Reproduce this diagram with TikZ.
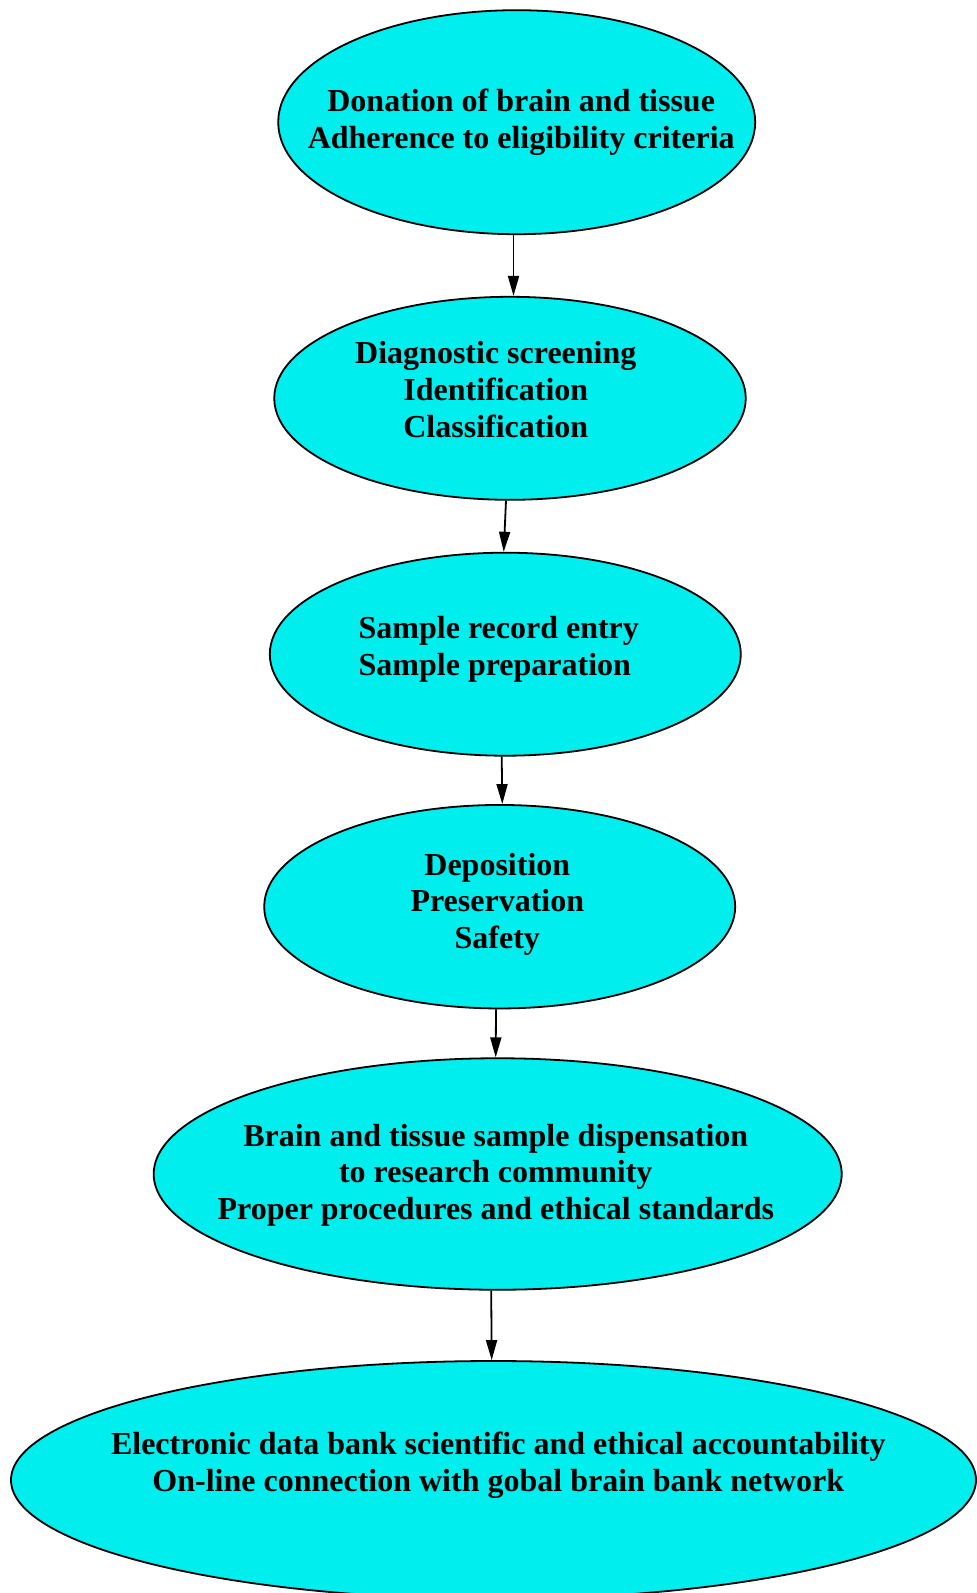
\documentclass[tikz,border=0pt]{standalone}
\usepackage{fontspec}
\setmainfont{Liberation Serif}
\usetikzlibrary{shapes.geometric,arrows.meta}
\definecolor{bank}{RGB}{0,238,238}

\begin{document}
\begin{tikzpicture}[stage/.style={ellipse, draw, fill=bank, inner sep=0pt},
  txt/.style={font=\fontsize{32}{36.7}\selectfont\bfseries, align=center, inner sep=0pt},
  >={Triangle[length=20pt,width=11pt]}, line width=1.8pt]
  \useasboundingbox (0,0) rectangle (977pt,-1593pt);

  \node (A) [stage, minimum width=477pt, minimum height=224pt,
    label={[txt, xshift=4.5pt]center:Donation of brain and tissue\\Adherence to eligibility criteria}]
    at (516.7pt,-122.2pt) {};
  \node (B) [stage, minimum width=471.5pt, minimum height=203pt,
    below of=A, node distance=276.1pt, xshift=-6.7pt,
    label={[txt, xshift=-14.2pt, yshift=8.9pt]center:Diagnostic screening\\Identification\\Classification}] {};
  \node (C) [stage, minimum width=471pt, minimum height=203pt,
    below of=B, node distance=255.9pt, xshift=-4.7pt,
    label={[txt, align=left, xshift=-6.5pt, yshift=5pt]center:Sample record entry\\Sample preparation}] {};
  \node (D) [stage, minimum width=471pt, minimum height=203.5pt,
    below of=C, node distance=252.5pt, xshift=-5.6pt,
    label={[txt, xshift=-2.4pt, yshift=2.5pt]center:Deposition\\Preservation\\Safety}] {};
  \node (E) [stage, minimum width=688pt, minimum height=231.5pt,
    below of=D, node distance=267.3pt, xshift=-2pt,
    label={[txt, xshift=-1.9pt, yshift=-1pt]center:Brain and tissue sample dispensation\\to research community\\Proper procedures and ethical standards}] {};
  \node (F) [stage, minimum width=965pt, minimum height=238pt,
    below of=E, node distance=306pt, xshift=-4.2pt,
    label={[txt, xshift=4.8pt, yshift=15pt]center:Electronic data bank scientific and ethical accountability\\On-line connection with gobal brain bank network}] {};

  \draw[->] ([xshift=-3.2pt]A.south) to ([xshift=3.5pt]B.north);
  \draw[->] ([xshift=-4pt]B.south) to ([xshift=-1.6pt]C.north);
  \draw[->] ([xshift=-3.6pt]C.south) to ([xshift=2.6pt]D.north);
  \draw[->] ([xshift=-3.7pt]D.south) to ([xshift=-2pt]E.north);
  \draw[->] ([xshift=-6.5pt]E.south) to ([xshift=-1.8pt]F.north);
\end{tikzpicture}
\end{document}
